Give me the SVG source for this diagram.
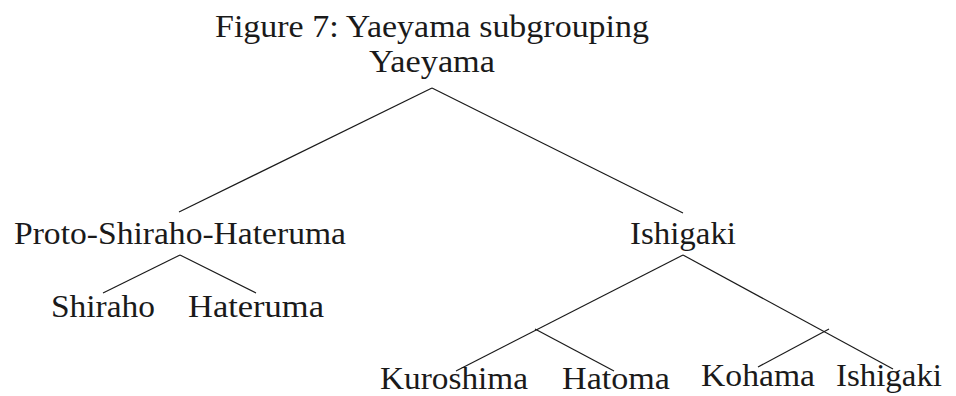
<svg xmlns="http://www.w3.org/2000/svg" width="956" height="396" viewBox="0 0 956 396">
<style>
text{font-family:"Liberation Serif","Times New Roman",serif;font-size:32px;fill:#1a1a1a;text-anchor:middle}
.e line{stroke:#1a1a1a;stroke-width:1.2;fill:none}
</style>
<rect width="956" height="396" fill="#fff"/>
<text id="title" x="432" y="37" textLength="434" lengthAdjust="spacingAndGlyphs">Figure 7: Yaeyama subgrouping</text>
<g class="e" id="edges">
<line x1="432" y1="88" x2="179" y2="212"/>
<line x1="432" y1="88" x2="683" y2="213"/>
<line x1="180" y1="255" x2="103" y2="293"/>
<line x1="180" y1="255" x2="256" y2="293"/>
<line x1="683" y1="255" x2="456" y2="371"/>
<line x1="535" y1="329" x2="614" y2="371"/>
<line x1="683" y1="255" x2="893" y2="369"/>
<line x1="829" y1="329" x2="758" y2="367"/>
</g>
<g id="n-yaeyama"><text x="432" y="72" textLength="126" lengthAdjust="spacingAndGlyphs">Yaeyama</text></g>
<g id="n-psh"><text x="180" y="244" textLength="332" lengthAdjust="spacingAndGlyphs">Proto-Shiraho-Hateruma</text></g>
<g id="n-ishigaki"><text x="683" y="244" textLength="106" lengthAdjust="spacingAndGlyphs">Ishigaki</text></g>
<g id="n-shiraho"><text x="103" y="317" textLength="104" lengthAdjust="spacingAndGlyphs">Shiraho</text></g>
<g id="n-hateruma"><text x="256" y="317" textLength="136" lengthAdjust="spacingAndGlyphs">Hateruma</text></g>
<g id="n-kuroshima"><text x="454" y="389" textLength="148" lengthAdjust="spacingAndGlyphs">Kuroshima</text></g>
<g id="n-hatoma"><text x="616" y="389" textLength="108" lengthAdjust="spacingAndGlyphs">Hatoma</text></g>
<g id="n-kohama"><text x="758" y="386" textLength="114" lengthAdjust="spacingAndGlyphs">Kohama</text></g>
<g id="n-ishigaki2"><text x="889" y="386" textLength="106" lengthAdjust="spacingAndGlyphs">Ishigaki</text></g>
</svg>
